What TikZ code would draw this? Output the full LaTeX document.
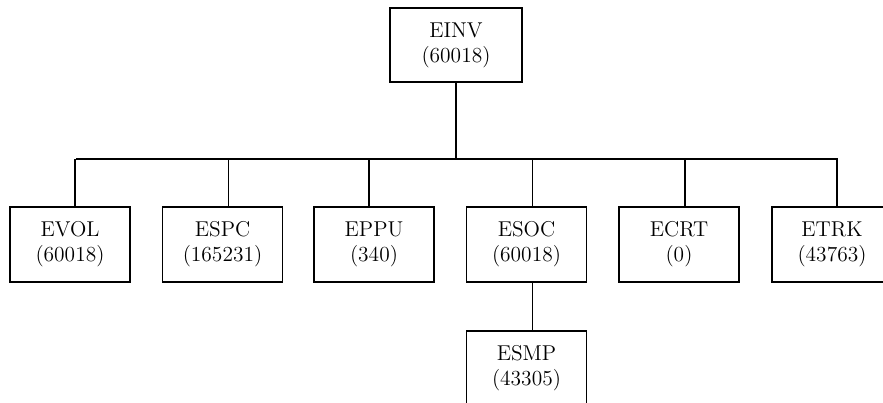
\documentclass[tikz,border=0pt]{standalone}
\usepackage{tikz}

\begin{document}
\begin{tikzpicture}[x=0.55pt,y=-0.55pt,
    box/.style={draw,line width=0.6pt,minimum width=66pt,minimum height=41.25pt,
        inner sep=0pt,align=center,font=\fontsize{11.8}{13.75}\selectfont},
    link/.style={line width=0.6pt}]
    \useasboundingbox (0,0) rectangle (883,402);
    \clip (0,0) rectangle (883,402);

    % top box
    \node[box,minimum width=72.6pt,minimum height=40.7pt] (einv) at (456,45) {EINV\\(60018)};

    % second row
    \node[box] (evol) at (70,244.5) {EVOL\\(60018)};
    \node[box] (espc) at (222.5,244.5) {ESPC\\(165231)};
    \node[box] (eppu) at (374,244.5) {EPPU\\(340)};
    \node[box] (esoc) at (526.5,244.5) {ESOC\\(60018)};
    \node[box] (ecrt) at (679,244.5) {ECRT\\(0)};
    \node[box] (etrk) at (832,244.5) {ETRK\\(43763)};

    % third row
    \node[box] (esmp) at (526.5,368.5) {ESMP\\(43305)};

    % connectors
    \coordinate (busL) at (76,159);
    \coordinate (busR) at (838,159);
    \draw[link] (busL) -- (busR);
    \draw[link] (einv.south) -- (einv.south |- busL);
    \foreach \n/\dx in {evol/5,espc/6,eppu/-5,esoc/6,ecrt/6,etrk/5}
        \draw[link] ([xshift=\dx*0.55pt]\n.north) -- ([xshift=\dx*0.55pt]\n.north |- busL);
    \draw[link] ([xshift=3.3pt]esoc.south) -- ([xshift=3.3pt]esmp.north);
\end{tikzpicture}
\end{document}
